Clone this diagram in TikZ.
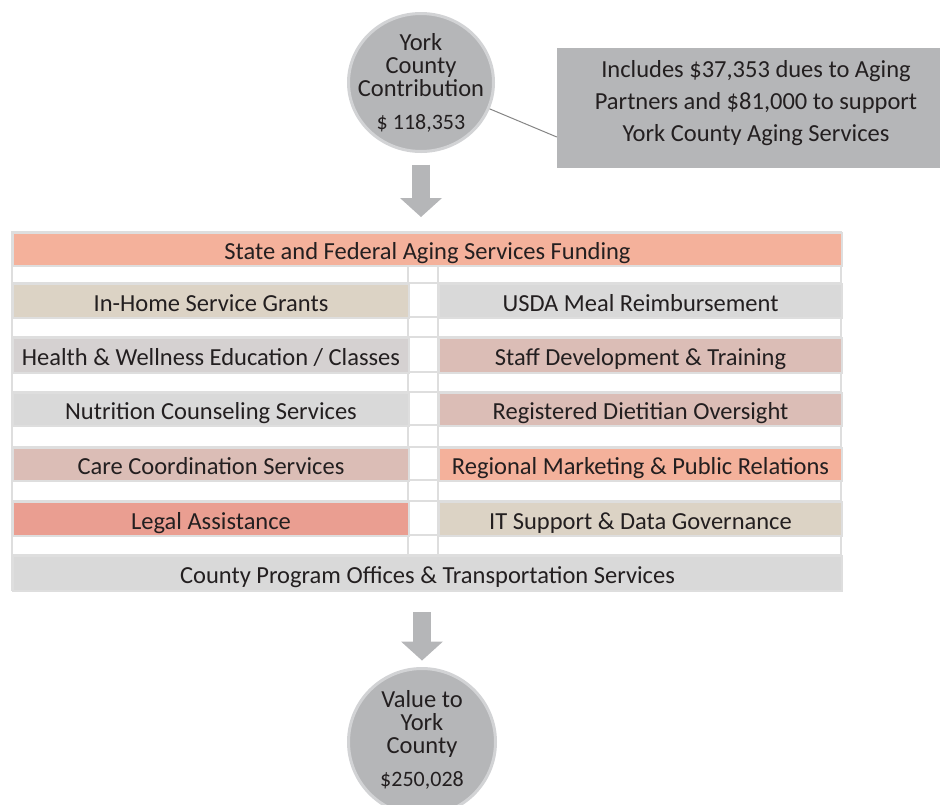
\documentclass[tikz,border=0pt]{standalone}
\usepackage{fontspec}
\setmainfont{Carlito}
\usetikzlibrary{shapes.geometric, arrows.meta}
\definecolor{ink}{HTML}{231F20}
\definecolor{bub}{HTML}{B5B6B8}
\definecolor{bubedge}{HTML}{D2D3D5}
\definecolor{grid}{HTML}{DEDEDE}
\definecolor{lead}{HTML}{858585}
\definecolor{salmon}{HTML}{F4B19B}
\definecolor{beige}{HTML}{DCD3C5}
\definecolor{lgray}{HTML}{D9D9D9}
\definecolor{wgray}{HTML}{D5D1D1}
\definecolor{rose}{HTML}{DBBDB6}
\definecolor{coral}{HTML}{EA9E91}

\begin{document}
\begin{tikzpicture}[x=1pt, y=-1pt,
	every node/.style={text=ink, font=\fontsize{24.5}{23}\selectfont},
	gridline/.style={draw=grid, line width=2pt},
	cell/.style={gridline, anchor=north west, inner sep=0pt, minimum height=34pt, text height=20pt, text depth=0pt},
	lcell/.style={cell, minimum width=396pt},
	rcell/.style={cell, minimum width=403pt},
	wcell/.style={cell, minimum width=829pt},
	bubble/.style={fill=bub, draw=bubedge, line width=3pt, inner sep=0pt},
	bubtext/.style={align=center, inner sep=0pt},
	flow/.style={draw=bub, line width=17.5pt, -{Triangle[width=42pt, length=19pt, line width=0pt]}}]
	\useasboundingbox (0,0) rectangle (940,804);
	\clip (0,0) rectangle (940,804);

	\node[bubble, ellipse, minimum width=145pt, minimum height=138pt] (york) at (421,82.5) {};
	\node[bubtext] (yorktxt) at (york) {York\\County\\Contribution\\[10pt]{\fontsize{22}{22}\selectfont\$ 118,353}};

	\node[fill=bub, minimum width=398pt, minimum height=120pt] (note) at (756,108) {};
	\node[bubtext, font=\fontsize{24.5}{32}\selectfont] (notetxt) at (756,103) {Includes \$37,353 dues to Aging\\Partners and \$81,000 to support\\York County Aging Services};
	\draw[lead, line width=1pt] (york.-21) -- ([yshift=-29pt]note.west);

	\draw[gridline, fill=white] (12,232) rectangle (841,590);
	\draw[gridline] (12,265) -- (841,265) (12,283) -- (841,283) (12,317) -- (841,317) (12,337) -- (841,337)
		(12,372) -- (841,372) (12,392) -- (841,392) (12,425) -- (841,425) (12,447) -- (841,447)
		(12,480) -- (841,480) (12,501) -- (841,501) (12,535) -- (841,535) (12,555) -- (841,555);
	\draw[gridline] (408,265) -- (408,555) (438,265) -- (438,555);

	\node[wcell, fill=salmon, minimum height=33pt] (funding) at (12,232) {State and Federal Aging Services Funding};
	\node[lcell, fill=beige] (inhome) at (12,283) {In-Home Service Grants};
	\node[rcell, fill=lgray] (usda) at (438,283) {USDA Meal Reimbursement};
	\node[lcell, fill=wgray, minimum height=35pt] (wellness) at (12,337) {Health \& Wellness Education / Classes};
	\node[rcell, fill=rose, minimum height=35pt] (staff) at (438,337) {Staff Development \& Training};
	\node[lcell, fill=lgray, minimum height=33pt] (nutrition) at (12,392) {Nutrition Counseling Services};
	\node[rcell, fill=rose, minimum height=33pt] (dietitian) at (438,392) {Registered Dietitian Oversight};
	\node[lcell, fill=rose, minimum height=33pt] (care) at (12,447) {Care Coordination Services};
	\node[rcell, fill=salmon, minimum height=33pt] (marketing) at (438,447) {Regional Marketing \& Public Relations};
	\node[lcell, fill=coral] (legal) at (12,501) {Legal Assistance};
	\node[rcell, fill=beige] (itsupport) at (438,501) {IT Support \& Data Governance};
	\node[wcell, fill=lgray, minimum height=35pt] (offices) at (12,555) {County Program Offices \& Transportation Services};

	\node[bubble, circle, minimum size=147pt] (value) at (422,742) {};
	\node[bubtext] (valuetxt) at (422,740) {Value to\\York\\County\\[10pt]{\fontsize{22}{22}\selectfont\$250,028}};

	\draw[flow] ([yshift=-11.5pt]york.south) -- ([yshift=15pt]york.south |- funding.north);
	\draw[flow] ([yshift=-20pt]value.north |- offices.south) -- ([yshift=6.5pt]value.north);
\end{tikzpicture}
\end{document}
